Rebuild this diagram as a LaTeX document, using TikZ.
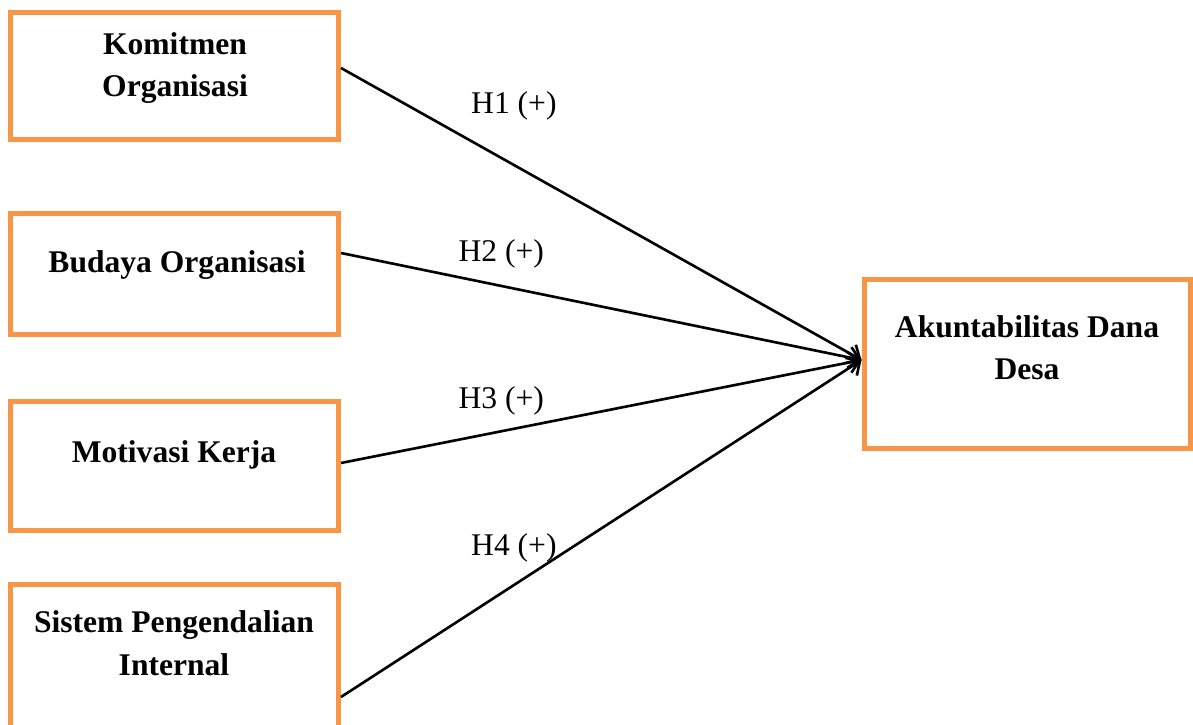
\documentclass[tikz,border=0pt]{standalone}
\usepackage{fontspec}
\setmainfont{Liberation Serif}
\usetikzlibrary{arrows.meta}
\usetikzlibrary{fit}
\definecolor{varorange}{RGB}{247,150,70}

\begin{document}
\begin{tikzpicture}[x=0.38pt,y=-0.38pt,
  varbox/.style={draw=varorange,line width=1.9pt,inner sep=0pt,rectangle},
  vartext/.style={font=\fontsize{12}{16}\selectfont\bfseries,text=black,align=center,anchor=base,inner sep=0pt},
  hyplabel/.style={font=\fontsize{12}{14}\selectfont,text=black,anchor=base west,inner sep=0pt},
  hyparrow/.style={draw=black,line width=1pt,-{Straight Barb[length=4pt,width=8pt]}}]
\useasboundingbox (0,0) rectangle (1193,725);
\clip (0,0) rectangle (1193,725);

% independent variables
\node[varbox,fit={(10,13) (338.5,140)}] (komitmen) {};
\node[vartext] (komitmen-txt) at (175,97) {Komitmen\\Organisasi};
\node[varbox,fit={(10,214) (338.5,335)}] (budaya) {};
\node[vartext] (budaya-txt) at (177,273) {Budaya Organisasi};
\node[varbox,fit={(10,402) (338.5,531)}] (motivasi) {};
\node[vartext] (motivasi-txt) at (174,463) {Motivasi Kerja};
\node[varbox,fit={(10,585) (338.5,780)}] (spi) {};
\node[vartext] (spi-txt) at (174,675) {Sistem Pengendalian\\Internal};

% dependent variable
\node[varbox,fit={(864,280) (1190,449)}] (akuntabilitas) {};
\node[vartext] (akuntabilitas-txt) at (1027,380) {Akuntabilitas Dana\\Desa};

% hypotheses
\draw[hyparrow] (komitmen.east |- 0,68) -- (akuntabilitas.west |- 0,360);
\draw[hyparrow] (budaya.east |- 0,253) -- (akuntabilitas.west |- 0,360);
\draw[hyparrow] (motivasi.east |- 0,463) -- (akuntabilitas.west |- 0,360);
\draw[hyparrow] (spi.east |- 0,697) -- (akuntabilitas.west |- 0,360);

\node[hyplabel] (h1) at (470.7,113.3) {H1 (+)};
\node[hyplabel] (h2) at (458,261.7) {H2 (+)};
\node[hyplabel] (h3) at (458,409) {H3 (+)};
\node[hyplabel] (h4) at (470.7,555.7) {H4 (+)};

\end{tikzpicture}
\end{document}
